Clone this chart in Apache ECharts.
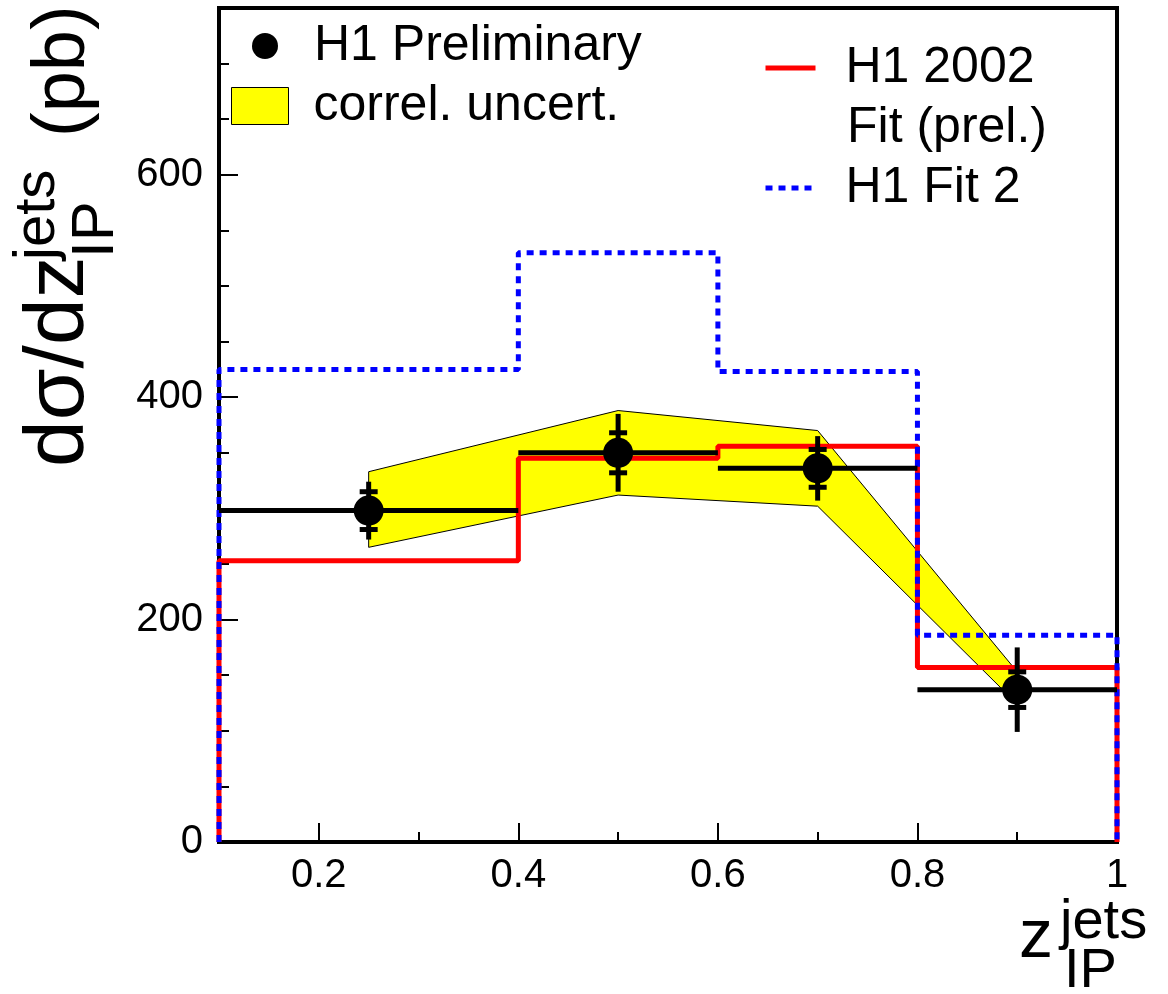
<!DOCTYPE html>
<html>
<head>
<meta charset="utf-8">
<script src="https://cdn.jsdelivr.net/npm/echarts@6/dist/echarts.min.js"></script>
<style>
  html, body { margin: 0; padding: 0; background: #fff; }
  #main { width: 1168px; height: 994px; }
</style>
</head>
<body>
<div id="main"></div>
<script>
// bins in z_IP^jets
var binEdges = [0.1, 0.4, 0.6, 0.8, 1.0];

// H1 preliminary data points
var pointX = [0.25, 0.5, 0.7, 0.9];
var pointY = [298, 350, 336, 137];
var statErr = [17, 18, 17, 16];
var totErr = [26, 35, 29, 38];

// correlated uncertainty band
var bandX = [0.25, 0.5, 0.7, 0.9];
var bandHigh = [333, 388, 370, 153];
var bandLow = [265, 312, 302, 124];

// model curves (one value per bin)
var fit2002 = [253, 345, 356, 157];
var fit2 = [425, 530, 423, 186];

// axis ticks
var xMajorTicks = [0.2, 0.4, 0.6, 0.8, 1.0];
var xMinorTicks = [0.3, 0.5, 0.7, 0.9];
var yMajorTicks = [0, 200, 400, 600];
var yMinorTicks = [50, 100, 150, 250, 300, 350, 450, 500, 550, 650, 700];

var FONT = 'Liberation Sans, Arial, Helvetica, sans-serif';

// histogram outline: down to zero at both ends
function histPoints(vals) {
    var pts = [[binEdges[0], 0]];
    for (var i = 0; i < vals.length; i++) {
        pts.push([binEdges[i], vals[i]]);
    }
    pts.push([binEdges[binEdges.length - 1], vals[vals.length - 1]]);
    pts.push([binEdges[binEdges.length - 1], 0]);
    return pts;
}

var bandData = [];
for (var i = 0; i < bandX.length; i++) bandData.push([bandX[i], bandLow[i], bandHigh[i]]);

var pointData = [];
for (var i = 0; i < pointX.length; i++) {
    pointData.push([pointX[i], pointY[i], statErr[i], totErr[i], binEdges[i], binEdges[i + 1]]);
}

function renderBand(params, api) {
    if (params.dataIndex !== 0) return null;
    var pts = [];
    for (var i = 0; i < bandX.length; i++) pts.push(api.coord([bandX[i], bandHigh[i]]));
    for (var i = bandX.length - 1; i >= 0; i--) pts.push(api.coord([bandX[i], bandLow[i]]));
    return {
        type: 'polygon',
        shape: { points: pts },
        style: { fill: '#ffff00', stroke: '#000', lineWidth: 1 }
    };
}

function renderPoint(params, api) {
    var x = api.value(0), y = api.value(1), st = api.value(2), tot = api.value(3);
    var c = api.coord([x, y]);
    var l = api.coord([api.value(4), y]);
    var r = api.coord([api.value(5), y]);
    var top = api.coord([x, y + tot]);
    var bot = api.coord([x, y - tot]);
    var sTop = api.coord([x, y + st]);
    var sBot = api.coord([x, y - st]);
    var ls = { stroke: '#000', lineWidth: 5 };
    return {
        type: 'group',
        children: [
            { type: 'line', shape: { x1: l[0], y1: c[1], x2: r[0], y2: c[1] }, style: ls },
            { type: 'line', shape: { x1: c[0], y1: top[1], x2: c[0], y2: bot[1] }, style: ls },
            { type: 'line', shape: { x1: c[0] - 9, y1: sTop[1], x2: c[0] + 9, y2: sTop[1] }, style: ls },
            { type: 'line', shape: { x1: c[0] - 9, y1: sBot[1], x2: c[0] + 9, y2: sBot[1] }, style: ls },
            { type: 'circle', shape: { cx: c[0], cy: c[1], r: 15 }, style: { fill: '#000' } }
        ]
    };
}

var chart = echarts.init(document.getElementById('main'));

var legendText = { fontFamily: FONT, fontSize: 50, color: '#000' };

option = {
    animation: false,
    backgroundColor: '#fff',
    grid: {
        left: 219, right: 51, top: 8, bottom: 152,
        show: true, borderColor: '#000', borderWidth: 4
    },
    legend: [
        {
            left: 252, top: 21, padding: 0, selectedMode: false,
            itemWidth: 26, itemHeight: 26,
            textStyle: Object.assign({ padding: [0, 0, 0, 31] }, legendText),
            data: [{ name: 'H1 Preliminary', icon: 'circle', itemStyle: { color: '#000' } }]
        },
        {
            left: 231, top: 81, padding: 0, selectedMode: false,
            itemWidth: 57, itemHeight: 37,
            textStyle: Object.assign({ padding: [0, 0, 0, 20] }, legendText),
            data: [{ name: 'correl. uncert.', icon: 'rect',
                     itemStyle: { color: '#ffff00', borderColor: '#000', borderWidth: 1 } }]
        },
        {
            left: 763, top: 43, padding: 0, selectedMode: false,
            itemWidth: 50, itemHeight: 14,
            itemStyle: { opacity: 0 },
            lineStyle: { color: '#ff0000', width: 5, type: 'solid' },
            textStyle: Object.assign({ padding: [0, 0, 0, 25] }, legendText),
            data: ['H1 2002']
        },
        {
            left: 763, top: 163, padding: 0, selectedMode: false,
            itemWidth: 50, itemHeight: 14,
            itemStyle: { opacity: 0 },
            lineStyle: { color: '#0000ff', width: 5, type: [7, 6] },
            textStyle: Object.assign({ padding: [0, 0, 0, 25] }, legendText),
            data: ['H1 Fit 2']
        }
    ],
    xAxis: [
        {
            type: 'value', min: 0.1, max: 1,
            axisLine: { show: true, lineStyle: { color: '#000', width: 4 } },
            axisTick: { show: true, inside: true, length: 19, customValues: xMajorTicks,
                        lineStyle: { color: '#000', width: 2 } },
            axisLabel: { show: true, customValues: xMajorTicks, margin: 14,
                         fontFamily: FONT, fontSize: 40, color: '#000',
                         formatter: function (v) { return String(+v.toFixed(1)); } },
            splitLine: { show: false }
        },
        {
            type: 'value', min: 0.1, max: 1, position: 'bottom',
            axisLine: { show: false },
            axisTick: { show: true, inside: true, length: 10, customValues: xMinorTicks,
                        lineStyle: { color: '#000', width: 2 } },
            axisLabel: { show: false },
            splitLine: { show: false }
        }
    ],
    yAxis: [
        {
            type: 'value', min: 0, max: 750,
            axisLine: { show: true, lineStyle: { color: '#000', width: 4 } },
            axisTick: { show: true, inside: true, length: 19, customValues: yMajorTicks,
                        lineStyle: { color: '#000', width: 2 } },
            axisLabel: { show: true, customValues: yMajorTicks, margin: 16,
                         fontFamily: FONT, fontSize: 40, color: '#000' },
            splitLine: { show: false }
        },
        {
            type: 'value', min: 0, max: 750, position: 'left',
            axisLine: { show: false },
            axisTick: { show: true, inside: true, length: 10, customValues: yMinorTicks,
                        lineStyle: { color: '#000', width: 2 } },
            axisLabel: { show: false },
            splitLine: { show: false }
        }
    ],
    graphic: [
        // y axis title, rotated
        { type: 'text', x: 60, y: 467, rotation: Math.PI / 2,
          style: { text: 'dσ/dz', font: '84px ' + FONT, fill: '#000', align: 'left', verticalAlign: 'middle' } },
        { type: 'text', x: 38, y: 260, rotation: Math.PI / 2,
          style: { text: 'jets', font: '58px ' + FONT, fill: '#000', align: 'left', verticalAlign: 'middle' } },
        { type: 'text', x: 96, y: 258, rotation: Math.PI / 2,
          style: { text: 'IP', font: '60px ' + FONT, fill: '#000', align: 'left', verticalAlign: 'middle' } },
        { type: 'text', x: 64, y: 137, rotation: Math.PI / 2,
          style: { text: '(pb)', font: '74px ' + FONT, fill: '#000', align: 'left', verticalAlign: 'middle' } },
        // x axis title
        { type: 'text', x: 1019, y: 938,
          style: { text: 'z', font: '68px ' + FONT, fill: '#000', align: 'left', verticalAlign: 'middle' } },
        { type: 'text', x: 1060, y: 923,
          style: { text: 'jets', font: '56px ' + FONT, fill: '#000', align: 'left', verticalAlign: 'middle' } },
        { type: 'text', x: 1064, y: 972,
          style: { text: 'IP', font: '56px ' + FONT, fill: '#000', align: 'left', verticalAlign: 'middle' } },
        // second line of the H1 2002 legend entry
        { type: 'text', x: 847, y: 128,
          style: { text: 'Fit (prel.)', font: '50px ' + FONT, fill: '#000', align: 'left', verticalAlign: 'middle' } }
    ],
    series: [
        {
            name: 'correl. uncert.',
            type: 'custom',
            renderItem: renderBand,
            itemStyle: { color: '#ffff00', borderColor: '#000', borderWidth: 1 },
            data: bandData,
            z: 1
        },
        {
            name: 'H1 2002',
            type: 'line',
            step: 'end',
            symbol: 'none',
            clip: false,
            lineStyle: { color: '#ff0000', width: 5 },
            itemStyle: { color: '#ff0000' },
            data: histPoints(fit2002),
            z: 2
        },
        {
            name: 'H1 Fit 2',
            type: 'line',
            step: 'end',
            symbol: 'none',
            clip: false,
            lineStyle: { color: '#0000ff', width: 5, type: [7, 6] },
            itemStyle: { color: '#0000ff' },
            data: histPoints(fit2),
            z: 3
        },
        {
            name: 'H1 Preliminary',
            type: 'custom',
            renderItem: renderPoint,
            itemStyle: { color: '#000' },
            data: pointData,
            z: 4
        }
    ]
};

chart.setOption(option);
</script>
</body>
</html>
